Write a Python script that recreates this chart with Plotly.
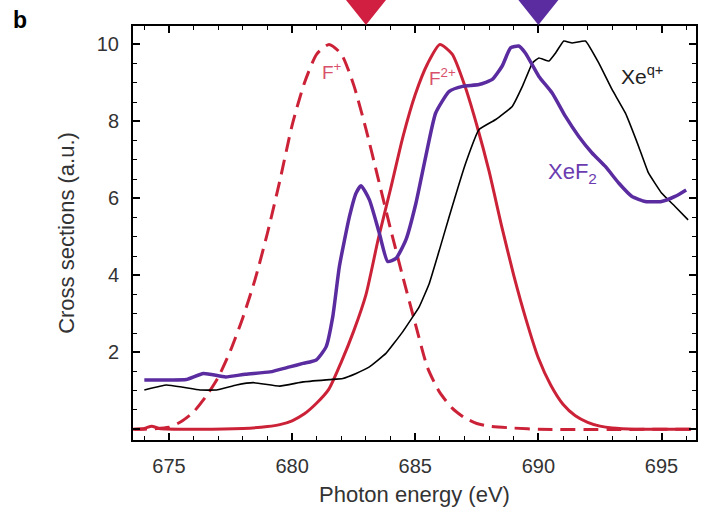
import plotly.graph_objects as go

# F+ (dashed)
fp_x = [673.5, 674.0, 675.0, 675.5, 676.0, 676.5, 677.0, 677.5, 678.0, 678.5, 679.0, 679.5, 680.0, 680.5,
        681.0, 681.5, 682.0, 682.5, 683.0, 683.5, 684.0, 684.5, 685.0, 685.5, 686.0, 686.5, 687.0,
        687.5, 688.0, 689.0, 690.0, 696.4]
fp_y = [0.0, 0.0, 0.05, 0.2, 0.45, 0.85, 1.35, 2.05, 2.9, 3.9, 5.1, 6.45, 7.9, 9.0,
        9.75, 10.0, 9.75, 8.95, 7.8, 6.5, 5.2, 3.95, 2.75, 1.6, 0.95, 0.55, 0.3,
        0.15, 0.08, 0.03, 0.0, 0.0]

# F2+ (solid red)
f2_x = [673.6, 674.0, 674.3, 674.6, 676.0, 678.0, 679.0, 679.5, 680.0, 680.5, 681.0, 681.5, 682.0, 682.5,
        683.0, 683.5, 684.0, 684.5, 685.0, 685.5, 686.0, 686.5, 687.0, 687.5, 688.0, 688.5,
        689.0, 689.5, 690.0, 690.5, 691.0, 691.5, 692.0, 692.5, 693.0, 694.0, 696.2]
f2_y = [0.0, 0.02, 0.08, 0.02, 0.0, 0.02, 0.07, 0.12, 0.22, 0.4, 0.68, 1.05, 1.75, 2.55,
        3.5, 4.95, 6.25, 7.6, 8.7, 9.5, 10.0, 9.75, 8.95, 7.9, 6.7, 5.3,
        4.0, 2.85, 1.85, 1.15, 0.65, 0.35, 0.18, 0.08, 0.03, 0.0, 0.0]

# XeF2 (purple)
xef2_x = [674.0, 675.0, 675.7, 676.4, 677.3, 678.1, 679.1, 679.9, 680.44, 680.98, 681.38, 681.65,
          681.92, 682.33, 682.6, 682.8, 683.14, 683.54, 683.88, 684.22, 684.62, 685.03, 685.43,
          685.83, 686.38, 686.92, 687.59, 688.13, 688.53, 688.87, 689.2, 689.47, 690.02, 690.56,
          691.1, 691.64, 692.18, 692.72, 693.26, 693.8, 694.34, 695.0, 695.55, 696.0]
xef2_y = [1.28, 1.28, 1.29, 1.45, 1.36, 1.43, 1.49, 1.62, 1.71, 1.8, 2.14, 2.92,
          4.23, 5.53, 6.14, 6.33, 5.96, 5.1, 4.36, 4.44, 4.92, 5.88, 7.1,
          8.22, 8.78, 8.91, 8.96, 9.09, 9.44, 9.91, 9.96, 9.78, 9.17, 8.74,
          8.13, 7.61, 7.18, 6.83, 6.4, 6.05, 5.92, 5.92, 6.05, 6.22]

# Xe q+ (black)
xe_x = [674.0, 674.9, 675.58, 676.26, 676.93, 677.74, 678.42, 679.5, 680.44, 681.52, 682.06, 682.6,
        683.14, 683.81, 684.49, 685.16, 685.57, 686.0, 686.38, 687.05, 687.59, 688.27, 688.94,
        689.35, 689.76, 690.02, 690.43, 690.7, 691.03, 691.37, 691.91, 692.45, 692.99, 693.53,
        694.07, 694.47, 695.0, 695.55, 696.08]
xe_y = [1.02, 1.15, 1.09, 1.02, 1.02, 1.15, 1.21, 1.12, 1.23, 1.29, 1.32, 1.45,
        1.62, 1.97, 2.53, 3.18, 3.79, 4.7, 5.53, 6.92, 7.79, 8.05, 8.39,
        8.91, 9.52, 9.65, 9.57, 9.78, 10.09, 10.04, 10.09, 9.52, 8.83, 8.22,
        7.35, 6.66, 6.14, 5.79, 5.44]

# energies marked by triangles above the frame
marker_x = [683.0, 690.0]
marker_colors = ["#d01f40", "#5a2ca0"]

RED = "#cc2238"
PURPLE = "#5a2ca0"

fig = go.Figure()
fig.add_trace(go.Scatter(x=fp_x, y=fp_y, mode="lines",
                         line=dict(color=RED, width=3, dash="15px,8px", shape="spline", smoothing=0.6), showlegend=False))
fig.add_trace(go.Scatter(x=f2_x, y=f2_y, mode="lines",
                         line=dict(color=RED, width=3, shape="spline", smoothing=0.6), showlegend=False))
fig.add_trace(go.Scatter(x=xe_x, y=xe_y, mode="lines",
                         line=dict(color="black", width=1.6, shape="spline", smoothing=0.3), showlegend=False))
fig.add_trace(go.Scatter(x=xef2_x, y=xef2_y, mode="lines",
                         line=dict(color=PURPLE, width=3.5, shape="spline", smoothing=0.5), showlegend=False))

shapes = []
for mx, mc in zip(marker_x, marker_colors):
    shapes.append(dict(type="path", xref="x", yref="paper", xsizemode="pixel", ysizemode="pixel",
                       xanchor=mx, yanchor=1, path="M-24,31 L24,31 L0,1 Z",
                       fillcolor=mc, line=dict(width=0), layer="above"))

font = "Liberation Sans, Arial, sans-serif"
fig.update_layout(
    width=704, height=509,
    margin=dict(l=133, r=6, t=26, b=69),
    plot_bgcolor="white", paper_bgcolor="white",
    font=dict(family=font, color="#333333", size=17),
    shapes=shapes,
    annotations=[
        dict(x=681.6, y=9.3, text="F<sup>+</sup>", showarrow=False, font=dict(color="#d8506a", size=19), xref="x", yref="y"),
        dict(x=686.1, y=9.15, text="F<sup>2+</sup>", showarrow=False, font=dict(color="#d8506a", size=19), xref="x", yref="y"),
        dict(x=694.2, y=9.2, text="Xe<sup>q+</sup>", showarrow=False, font=dict(color="#222222", size=21), xref="x", yref="y"),
        dict(x=691.4, y=6.65, text="XeF<sub>2</sub>", showarrow=False, font=dict(color="#6a3cb0", size=22), xref="x", yref="y"),
        dict(x=-0.2, y=1.015, xref="paper", yref="paper", xanchor="center", yanchor="middle",
             text="<b>b</b>", showarrow=False, font=dict(color="black", size=23)),
    ],
)

fig.update_xaxes(
    range=[673.54, 696.4], showline=True, linewidth=2, linecolor="black", mirror="allticks",
    ticks="inside", ticklen=7, tickwidth=1.5, tickcolor="black",
    tickvals=[675, 680, 685, 690, 695], showgrid=False, zeroline=False,
    minor=dict(dtick=1, tick0=675, ticks="inside", ticklen=4, tickwidth=1.2, tickcolor="black"),
    tickfont=dict(size=20, color="#333333"), ticklabelstandoff=7,
    title=dict(text="Photon energy (eV)", font=dict(size=22, color="#333333"), standoff=11),
)
fig.update_yaxes(
    range=[-0.28, 10.48], showline=True, linewidth=2, linecolor="black", mirror="allticks",
    ticks="inside", ticklen=7, tickwidth=1.5, tickcolor="black",
    tickvals=[0, 2, 4, 6, 8, 10], ticktext=["", "2", "4", "6", "8", "10"], showgrid=False, zeroline=False,
    minor=dict(dtick=0.5, tick0=0, ticks="inside", ticklen=4, tickwidth=1.2, tickcolor="black"),
    tickfont=dict(size=20, color="#333333"), ticklabelstandoff=8,
    title=dict(text="Cross sections (a.u.)", font=dict(size=22, color="#333333"), standoff=16),
)

fig.write_html("out.html")
